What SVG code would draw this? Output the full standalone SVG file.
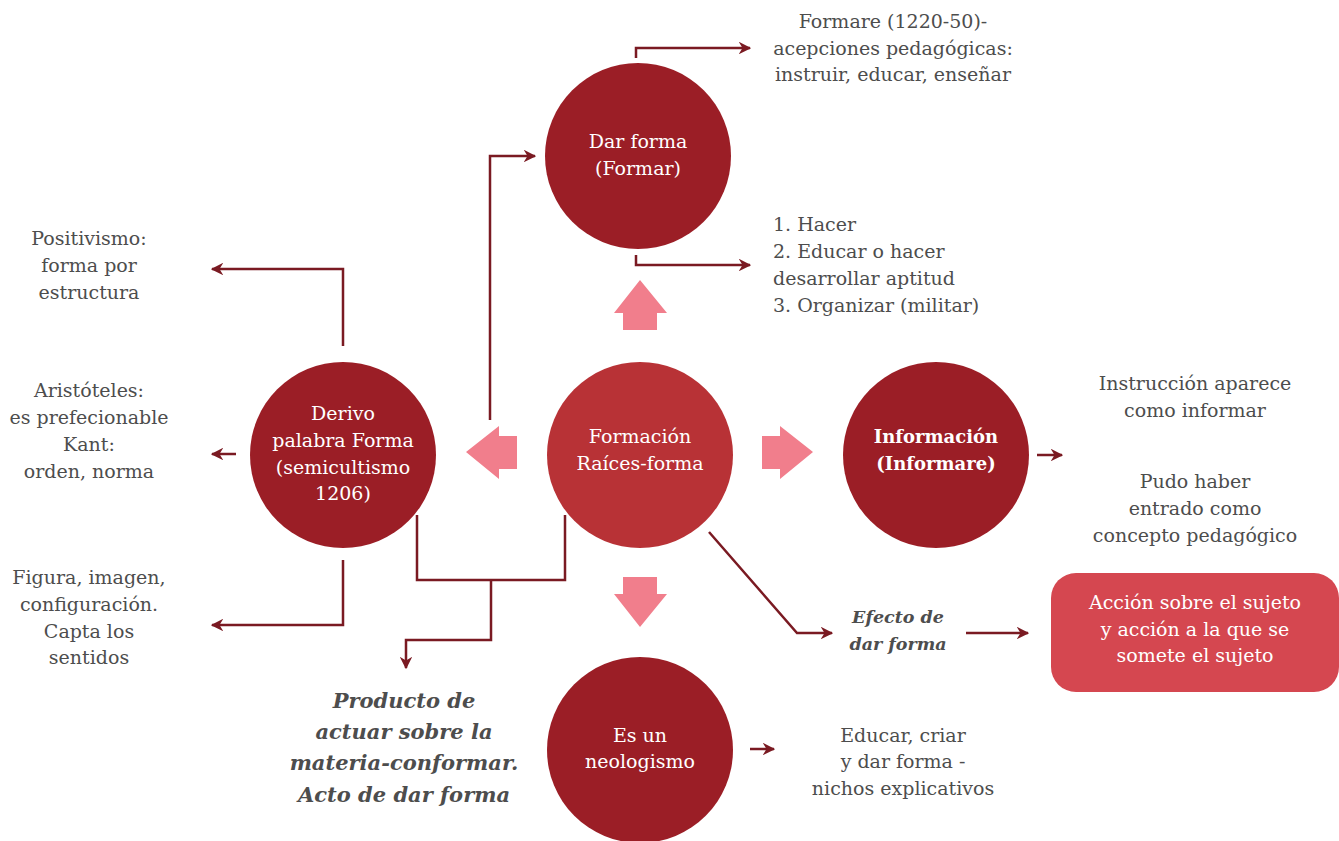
<svg xmlns="http://www.w3.org/2000/svg" width="1339" height="841" viewBox="0 0 1339 841">
<defs>
<marker id="ah" viewBox="0 0 10 10" refX="9" refY="5" markerWidth="5" markerHeight="5" orient="auto" markerUnits="strokeWidth">
<path d="M0,0 L10,5 L0,10 L3,5 Z" fill="#7A1A22"/>
</marker>
<style>
.t{font-family:'DejaVu Serif',serif;font-size:19px;fill:#4d4d4d;text-anchor:middle}
.l{text-anchor:start}
.w{fill:#ffffff}
.b{font-weight:bold}
.i{font-style:italic;font-weight:bold}
.dk{fill:#9B1E26}
.c{fill:none;stroke:#7A1A22;stroke-width:2.5}
.ba{fill:#F17E8C}
</style>
</defs>
<rect width="1339" height="841" fill="#ffffff"/>
<g id="connectors">
<path class="c" d="M636,58 V48 H750" marker-end="url(#ah)"/>
<path class="c" d="M636,255 V265 H750" marker-end="url(#ah)"/>
<path class="c" d="M490,420 V156 H535" marker-end="url(#ah)"/>
<path class="c" d="M343,346 V269 H212" marker-end="url(#ah)"/>
<path class="c" d="M236,454 H212" marker-end="url(#ah)"/>
<path class="c" d="M343,560 V625 H212" marker-end="url(#ah)"/>
<path class="c" d="M417,515 V580 H565 V515"/>
<path class="c" d="M491,580 V640 H406 V668" marker-end="url(#ah)"/>
<path class="c" d="M709,532 L797,633 H832" marker-end="url(#ah)"/>
<path class="c" d="M966,633 H1028" marker-end="url(#ah)"/>
<path class="c" d="M1037,455 H1062" marker-end="url(#ah)"/>
<path class="c" d="M750,749 H774" marker-end="url(#ah)"/>
</g>
<g id="block-arrows">
<path class="ba" d="M623,330 V313 H614 L640,280 L667,313 H657 V330 Z"/>
<path class="ba" d="M517,436 H499 V426 L466,452 L499,479 V469 H517 Z"/>
<path class="ba" d="M762,436 H780 V426 L813,452 L780,479 V469 H762 Z"/>
<path class="ba" d="M623,577 V594 H614 L640,627 L667,594 H657 V577 Z"/>
</g>
<g id="node-darforma">
<circle class="dk" cx="638" cy="156" r="93"/>
<text class="t w" x="638" y="148">Dar forma</text>
<text class="t w" x="638" y="175">(Formar)</text>
</g>
<g id="node-formacion">
<circle cx="640" cy="455" r="93" fill="#B83236"/>
<text class="t w" x="640" y="443">Formación</text>
<text class="t w" x="640" y="470">Raíces-forma</text>
</g>
<g id="node-derivo">
<circle class="dk" cx="343" cy="455" r="93"/>
<text class="t w" x="343" y="420">Derivo</text>
<text class="t w" x="343" y="447">palabra Forma</text>
<text class="t w" x="343" y="474">(semicultismo</text>
<text class="t w" x="343" y="500">1206)</text>
</g>
<g id="node-informacion">
<circle class="dk" cx="936" cy="455" r="93"/>
<text class="t w b" x="936" y="443" style="font-size:18px">Información</text>
<text class="t w b" x="936" y="470" style="font-size:18px">(Informare)</text>
</g>
<g id="node-neologismo">
<circle class="dk" cx="640" cy="750" r="93"/>
<text class="t w" x="640" y="742">Es un</text>
<text class="t w" x="640" y="768">neologismo</text>
</g>
<g id="node-accion">
<rect x="1051" y="573" width="288" height="119" rx="25" fill="#D54750"/>
<text class="t w" x="1195" y="609">Acción sobre el sujeto</text>
<text class="t w" x="1195" y="636">y acción a la que se</text>
<text class="t w" x="1195" y="662">somete el sujeto</text>
</g>
<g id="node-formare">
<text class="t" x="893" y="28">Formare (1220-50)-</text>
<text class="t" x="893" y="55">acepciones pedagógicas:</text>
<text class="t" x="893" y="81">instruir, educar, enseñar</text>
</g>
<g id="node-hacer">
<text class="t l" x="773" y="231">1. Hacer</text>
<text class="t l" x="773" y="258">2. Educar o hacer</text>
<text class="t l" x="773" y="285">desarrollar aptitud</text>
<text class="t l" x="773" y="312">3. Organizar (militar)</text>
</g>
<g id="node-positivismo">
<text class="t" x="89" y="245">Positivismo:</text>
<text class="t" x="89" y="272">forma por</text>
<text class="t" x="89" y="299">estructura</text>
</g>
<g id="node-aristoteles">
<text class="t" x="89" y="397">Aristóteles:</text>
<text class="t" x="89" y="424">es prefecionable</text>
<text class="t" x="89" y="451">Kant:</text>
<text class="t" x="89" y="478">orden, norma</text>
</g>
<g id="node-figura">
<text class="t" x="89" y="584">Figura, imagen,</text>
<text class="t" x="89" y="611">configuración.</text>
<text class="t" x="89" y="638">Capta los</text>
<text class="t" x="89" y="664">sentidos</text>
</g>
<g id="node-instruccion">
<text class="t" x="1195" y="390">Instrucción aparece</text>
<text class="t" x="1195" y="417">como informar</text>
</g>
<g id="node-pudo">
<text class="t" x="1195" y="488">Pudo haber</text>
<text class="t" x="1195" y="515">entrado como</text>
<text class="t" x="1195" y="542">concepto pedagógico</text>
</g>
<g id="node-efecto">
<text class="t i" x="898" y="623" style="font-size:17.5px">Efecto de</text>
<text class="t i" x="898" y="650" style="font-size:17.5px">dar forma</text>
</g>
<g id="node-producto">
<text class="t i" x="404" y="708" style="font-size:21px">Producto de</text>
<text class="t i" x="404" y="739" style="font-size:21px">actuar sobre la</text>
<text class="t i" x="404" y="770" style="font-size:21px">materia-conformar.</text>
<text class="t i" x="404" y="802" style="font-size:21px">Acto de dar forma</text>
</g>
<g id="node-educar">
<text class="t" x="903" y="742">Educar, criar</text>
<text class="t" x="903" y="768">y dar forma -</text>
<text class="t" x="903" y="795">nichos explicativos</text>
</g>
</svg>
